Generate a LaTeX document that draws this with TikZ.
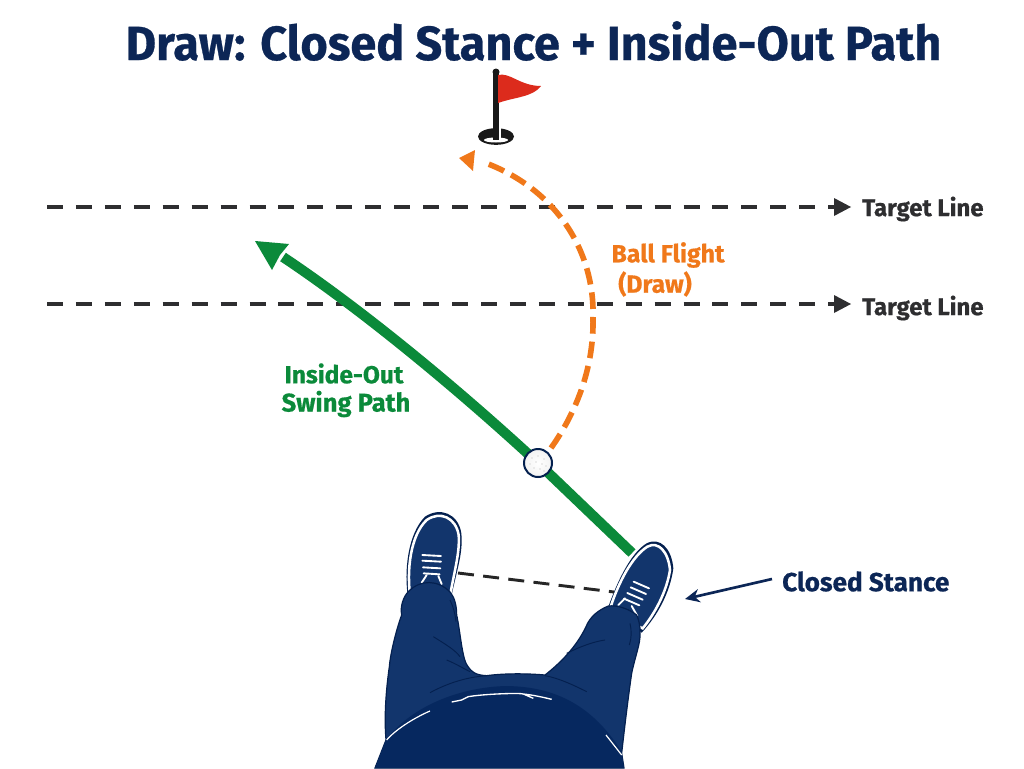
\documentclass[tikz,border=0pt]{standalone}
\usepackage{fontspec}
\setmainfont{Fira Sans}[BoldFeatures={FakeBold=0.6}]
\usetikzlibrary{arrows.meta,shapes.geometric}
\definecolor{navytext}{HTML}{0C2656}
\definecolor{trouser}{HTML}{12356C}
\definecolor{torso}{HTML}{06285F}
\definecolor{outline}{HTML}{04204F}
\definecolor{pathgreen}{HTML}{0B8A3A}
\definecolor{flightorange}{HTML}{F0781A}
\definecolor{flagred}{HTML}{DC2B1C}
\definecolor{linegrey}{HTML}{2E2E30}
\tikzset{
  titletext/.style={font=\fontsize{36}{40}\bfseries\selectfont, text=navytext, inner sep=0pt, xscale=0.976, transform shape},
  labeltext/.style={font=\fontsize{18}{22}\bfseries\selectfont, inner sep=0pt, align=center},
  widelabel/.style={labeltext, font=\fontsize{19.6}{22}\bfseries\selectfont},
  targetdash/.style={draw=linegrey, line width=2.5pt, dash pattern=on 12pt off 9.7pt},
  targethead/.style={fill=linegrey},
  lace/.style={draw=white, line width=1.4pt, line cap=round},
  shoeupper/.style={fill=trouser, draw=white, line width=1.9pt},
  crease/.style={draw=outline, line width=0.7pt},
  ballstyle/.style={circle, inner color=white, outer color=black!5, draw=outline, line width=1.5pt, minimum size=21pt, inner sep=0pt}
}
\begin{document}
\begin{tikzpicture}[x=0.75pt,y=-0.75pt]
\useasboundingbox (0,0) rectangle (1024,768);
\fill[white] (0,0) rectangle (1024,768);

% heading
\node[titletext] (heading) at (533.5,41) {Draw: Closed Stance + Inside-Out Path};

% flag on the hole
\node[ellipse, fill=black!90, minimum width=27pt, minimum height=12.5pt, inner sep=0pt] (cup) at (496,136.5) {};
\fill[white] (496,140) ellipse [x radius=12, y radius=2.5];
\fill[white] (498,127) rectangle (501,139);
\draw[black!90, line width=3.8pt] (496,73) -- (496,140);
\fill[black!90] (496,72) circle (3.5);
\fill[flagred] (498,75) .. controls (510,72) and (520,86) .. (541,86)
  .. controls (533,97) and (515,97) .. (498,103) -- cycle;

% target lines
\coordinate (lineAstart) at (47,207);
\coordinate (lineAtip) at (851,207);
\coordinate (lineBstart) at (47,304);
\coordinate (lineBtip) at (851,304);
\draw[targetdash] (lineAstart) -- (835,207);
\draw[targetdash] (lineBstart) -- (835,304);
\fill[targethead] (lineAtip) -- (834,198) -- (834,216) -- cycle;
\fill[targethead] (lineBtip) -- (834,295) -- (834,313) -- cycle;
\node[labeltext, text=linegrey, anchor=west] (targetA) at (862,209) {Target Line};
\node[labeltext, text=linegrey, anchor=west] (targetB) at (862,308) {Target Line};

% swing path and ball
\coordinate (swingstart) at (632,553);
\coordinate (swingend) at (255,241);
\coordinate (ballspot) at (538,463);
\draw[pathgreen, line width=7.6pt] (swingstart) -- (ballspot) .. controls (470,400) and (370,315) .. (283,257);
\fill[pathgreen] (swingend) -- (289,244) -- (280,255) -- (272,270) -- cycle;
\node[ballstyle] (ball) at (ballspot) {};
\foreach \dx/\dy in {-6/-5,0/-7,6/-4,-8/1,-2/-1,4/1,8/3,-4/5,2/6,6/8}
  \fill[black!14] (538+\dx,463+\dy) circle (0.8);

% ball flight
\coordinate (flightstart) at (551,448);
\coordinate (flightend) at (459,158);
\draw[flightorange, line width=4.2pt, dash pattern=on 12.5pt off 6pt]
  (flightstart) .. controls (578,410) and (594,365) .. (593,318)
  .. controls (595,250) and (555,188) .. (483,162);
\fill[flightorange] (flightend) -- (475,150) -- (474,160) -- (473,171) -- cycle;
\node[labeltext, text=flightorange, font=\fontsize{18.6}{22}\bfseries\selectfont] (flightA) at (668,255) {Ball Flight};
\node[labeltext, text=flightorange, font=\fontsize{18.6}{22}\bfseries\selectfont] (flightB) at (655,284) {(Draw)};

% swing label
\node[labeltext, text=pathgreen, font=\fontsize{18.4}{22}\bfseries\selectfont] (swingA) at (344,373.5) {Inside-Out};
\node[labeltext, text=pathgreen, font=\fontsize{19.2}{22}\bfseries\selectfont] (swingB) at (346,404) {Swing Path};

% golfer from above, traced on a 3x grid
\begin{scope}[x=0.25pt,y=-0.25pt,shift={(1080,1470)}]
  % left shoe
  \fill[outline] (145,330) .. controls (130,240) and (145,130) .. (195,80)
    .. controls (240,50) and (295,70) .. (304,130)
    .. controls (310,190) and (290,240) .. (272,330) -- cycle;
  \path[shoeupper] (152,330) .. controls (138,240) and (152,135) .. (200,90)
    .. controls (240,62) and (287,82) .. (296,135)
    .. controls (300,190) and (282,245) .. (268,330) -- cycle;
  \foreach \y/\w in {195/28,212/28,232/26,250/24}
    \draw[lace] (215-\w,\y) -- (215+\w,\y+3);
  \draw[lace] (200,255) -- (185,278);
  \draw[lace] (235,258) -- (245,282);

  % right shoe
  \fill[outline] (745,350) .. controls (770,280) and (810,190) .. (860,160)
    .. controls (900,140) and (935,175) .. (940,235)
    .. controls (930,310) and (890,380) .. (845,428)
    -- (815,400) -- cycle;
  \path[shoeupper] (752,350) .. controls (775,280) and (815,200) .. (862,170)
    .. controls (895,152) and (925,185) .. (930,240)
    .. controls (920,305) and (885,370) .. (848,415)
    -- (815,400) -- cycle;
  \foreach \x/\y in {847/282,838/299,828/316,818/333}
    \draw[lace] (\x-26,\y-7) -- (\x+20,\y+13);
  \draw[lace] (795,325) -- (775,345);
  \draw[lace] (815,348) -- (832,378);

  % trousers
  \fill[trouser, draw=outline, line width=0.9pt]
    (145,305) .. controls (130,320) and (120,350) .. (125,375)
    .. controls (105,430) and (90,500) .. (88,530)
    .. controls (78,600) and (72,680) .. (78,750)
    -- (45,834) -- (792,834) -- (785,790)
    .. controls (795,700) and (805,620) .. (815,550)
    .. controls (825,500) and (842,460) .. (840,430)
    .. controls (842,410) and (835,385) .. (830,375)
    .. controls (805,355) and (770,345) .. (745,348)
    .. controls (715,360) and (690,380) .. (678,410)
    .. controls (650,470) and (600,520) .. (555,555)
    .. controls (500,550) and (430,550) .. (380,557)
    .. controls (350,555) and (335,550) .. (318,520)
    .. controls (305,490) and (300,420) .. (290,375)
    .. controls (290,350) and (285,325) .. (272,308)
    .. controls (235,268) and (180,268) .. (145,305) -- cycle;
  % belt band
  \fill[torso] (90,735) .. controls (180,630) and (330,590) .. (440,588)
    .. controls (590,590) and (700,650) .. (785,785)
    -- (785,800) .. controls (710,680) and (580,615) .. (430,613)
    .. controls (300,613) and (170,670) .. (85,750) -- cycle;
  % torso
  \fill[torso] (78,750) .. controls (190,650) and (310,615) .. (430,613)
    .. controls (590,615) and (710,680) .. (785,790) -- (792,834) -- (45,834) -- cycle;
  \draw[white, line width=0.9pt] (80,750) .. controls (110,715) and (170,680) .. (210,663);
  \draw[white, line width=0.9pt] (738,735) -- (785,795);
  \draw[white, line width=1pt] (275,636) -- (305,630) -- (325,620) .. controls (370,612) and (480,608) .. (490,612) -- (520,625) -- (490,612) .. controls (520,615) and (550,622) .. (575,628);
  % creases
  \draw[crease] (220,440) .. controls (260,465) and (285,480) .. (300,500);
  \draw[crease] (260,510) .. controls (285,520) and (310,535) .. (330,545);
  \draw[crease] (620,490) .. controls (660,470) and (700,455) .. (735,450);
  \draw[crease] (210,608) .. controls (280,570) and (340,560) .. (380,557);
  \draw[crease] (555,557) .. controls (600,565) and (650,590) .. (680,605);
  \draw[crease] (810,400) .. controls (815,420) and (815,445) .. (808,465);
  \draw[crease] (270,330) .. controls (280,350) and (285,370) .. (288,395);
\end{scope}

% stance line and its label
\coordinate (stanceL) at (458,573);
\coordinate (stanceR) at (614,592);
\draw[black!85, line width=2.2pt, dash pattern=on 12pt off 7pt] (stanceL) -- (stanceR);
\node[widelabel, text=navytext, anchor=west] (stancelabel) at (782,581.5) {Closed Stance};
\coordinate (stancetip) at (685,599);
\draw[navytext, line width=2pt, -{Stealth[length=11pt,width=10pt]}] (772,579) -- (stancetip);
\end{tikzpicture}
\end{document}
